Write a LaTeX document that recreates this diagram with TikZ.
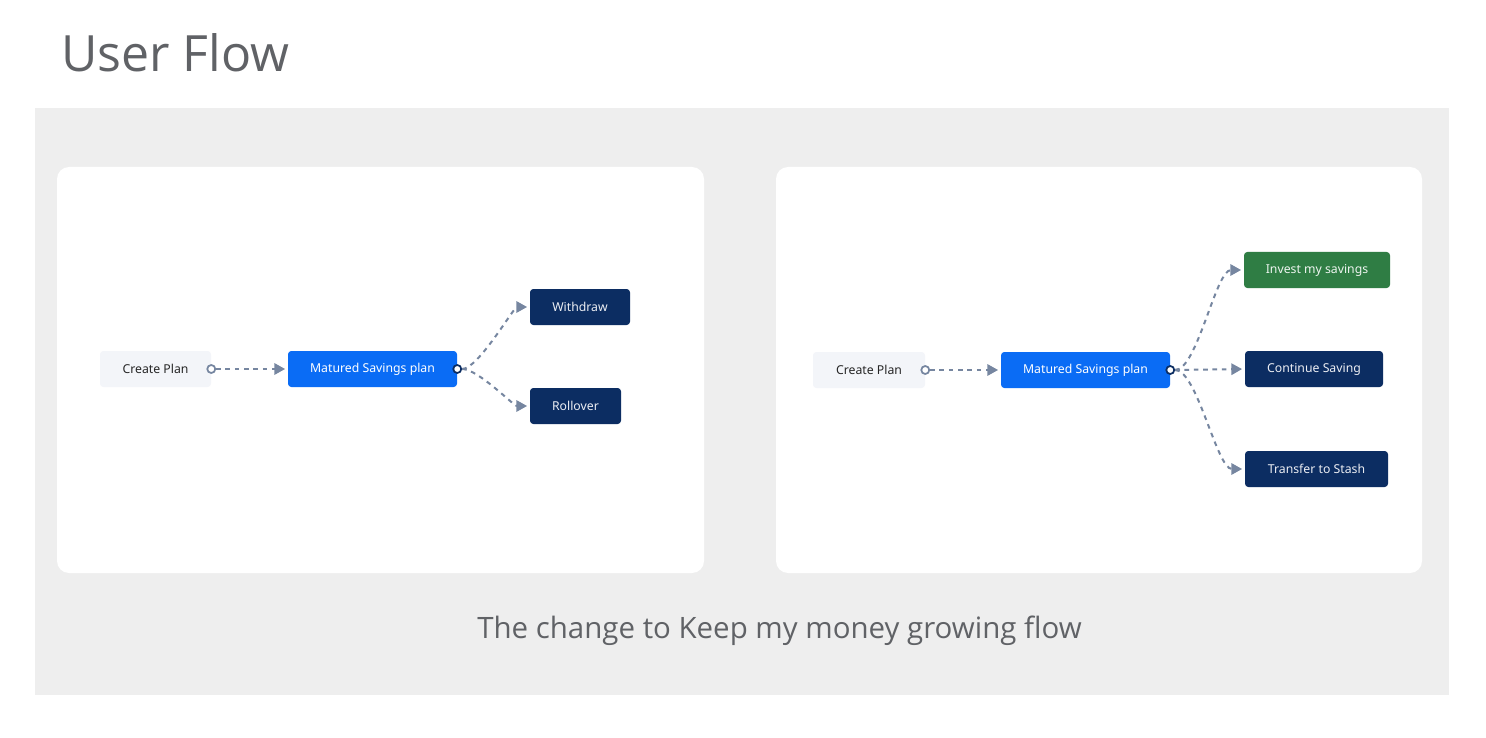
\documentclass[tikz,border=0pt]{standalone}
\usepackage{fontspec}
\setmainfont{Open Sans}
\newfontfamily\nodefont{Noto Sans}
\usetikzlibrary{arrows.meta}
\definecolor{panelgray}{HTML}{EEEEEE}
\definecolor{titlegray}{HTML}{606266}
\definecolor{cpfill}{HTML}{F3F5F9}
\definecolor{msblue}{HTML}{0A6CF5}
\definecolor{navy}{HTML}{0C2D62}
\definecolor{investgreen}{HTML}{2F7D44}
\definecolor{connslate}{HTML}{7686A0}
\tikzset{
  box/.style={rectangle, rounded corners=2.5pt, minimum height=27pt, inner sep=0pt,
    font=\nodefont\fontsize{9.2pt}{11pt}\selectfont},
  startbox/.style={box, fill=cpfill, text=black!85},
  bluebox/.style={box, fill=msblue, text=white},
  navybox/.style={box, fill=navy, text=white!92!navy},
  greenbox/.style={box, fill=investgreen, text=white!92!investgreen},
  port/.style={circle, draw=#1, fill=white, line width=1.3pt, minimum size=6pt, inner sep=0pt},
  conn/.style={draw=connslate, line width=1.5pt, dash pattern=on 3.5pt off 3.5pt,
    -{Triangle[length=8pt,width=8.5pt,fill=connslate]}, shorten >=2pt},
  card/.style={fill=white, rounded corners=9pt},
}
\begin{document}
\begin{tikzpicture}[x=0.75pt,y=-0.75pt]
\useasboundingbox (0,0) rectangle (1486,738);
\fill[white] (0,0) rectangle (1486,738);
% title
\node[anchor=base west, inner sep=0pt, text=titlegray, font=\fontsize{37.5pt}{44pt}\selectfont] (title) at (61,72) {User Flow};
% panel
\fill[panelgray] (35,108) rectangle (1449,695);
\fill[card] (57,167) rectangle (704,573);
\fill[card] (776,167) rectangle (1422,573);
% caption
\node[anchor=base, inner sep=0pt, text=titlegray, font=\fontsize{22.1pt}{26pt}\selectfont] (caption) at (779.5,638) {The change to Keep my money growing flow};

% left diagram
\node[startbox, minimum width=83.25pt] (cp1) at (155.5,369) {Create Plan};
\node[bluebox, minimum width=126.75pt] (ms1) at (372.5,369) {Matured Savings plan};
\node[navybox, minimum width=75pt] (wd) at (580,307) {Withdraw};
\node[navybox, minimum width=68.25pt] (ro) at (575.5,406) {Rollover};
\node[port=connslate] (p1) at (cp1.east) {};
\node[port=navy] (p2) at (ms1.east) {};
\draw[conn] (p1.east) -- (ms1.west);
\draw[conn] (p2.east) .. controls +(16,0) and +(-16,0) .. (wd.west);
\draw[conn] (p2.east) .. controls +(16,0) and +(-16,0) .. (ro.west);

% right diagram
\node[startbox, minimum width=84pt] (cp2) at (869,370) {Create Plan};
\node[bluebox, minimum width=126.75pt] (ms2) at (1085.5,370) {Matured Savings plan};
\node[greenbox, minimum width=109.5pt] (inv) at (1317,270) {Invest my savings};
\node[navybox, minimum width=103.5pt] (cs) at (1314,369) {Continue Saving};
\node[navybox, minimum width=107.25pt] (ts) at (1316.5,469) {Transfer to Stash};
\node[port=connslate] (p3) at (cp2.east) {};
\node[port=navy] (p4) at (ms2.east) {};
\draw[conn] (p3.east) -- (ms2.west);
\draw[conn] (p4.east) .. controls +(22,0) and +(-28,0) .. (inv.west);
\draw[conn] (p4.east) -- (cs.west);
\draw[conn] (p4.east) .. controls +(22,0) and +(-28,0) .. (ts.west);
\end{tikzpicture}
\end{document}
